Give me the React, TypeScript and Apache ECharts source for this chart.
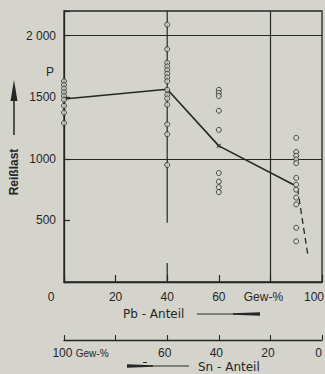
import React, { useEffect, useRef } from "react";
import * as echarts from "echarts";

// ---- data ----
const col0X = 0;
const col0Y = [1630, 1600, 1570, 1540, 1510, 1480, 1430, 1375, 1290];
const col40X = 40;
const col40Y = [2090, 1890, 1780, 1750, 1720, 1690, 1660, 1630, 1560, 1520, 1490, 1440, 1280, 1200, 950];
const col60X = 60;
const col60Y = [1560, 1535, 1510, 1390, 1235, 885, 815, 770, 730];
const col90X = 90;
const col90Y = [1170, 1055, 1025, 995, 965, 845, 790, 750, 685, 630, 440, 330];

const meanX = [0, 40, 60, 89];
const meanY = [1485, 1565, 1105, 790];
const crossPoint = [60, 1105];
const dashedX = [90.5, 94.5];
const dashedY = [760, 220];
const rangeLine40 = [[40, 480], [40, 2200]];
const longTick40 = [[40, 0], [40, 155]];

const gridYValues = [1000, 2000];
const gridXValues = [80];

const yTickLabels: Record<number, string> = { 500: "500", 1000: "1000", 1500: "1500", 2000: "2 000" };
const pbTickLabels: Record<number, string> = { 0: "0", 20: "20", 40: "40", 60: "60", 80: "Gew-%", 100: "100" };
const snTickLabels: Record<number, string> = { 100: "100", 80: "", 60: "60", 40: "40", 20: "20", 0: "0" };
const snUnit = "Gew-%";

const INK = "#262626";
const PAPER = "#d4d4cc";
const FONT = "Liberation Sans";

function pts(x: number, ys: number[]) {
  return ys.map((y) => [x, y]);
}

export default function App() {
  const ref = useRef<HTMLDivElement>(null);
  useEffect(() => {
    const chart = echarts.init(ref.current!, null, { renderer: "svg" });
    const txt = { fontFamily: FONT, fontSize: 12, color: INK };
    const circleSeries = (data: number[][]) => ({
      type: "scatter",
      data,
      symbol: "circle",
      symbolSize: 5,
      itemStyle: { color: PAPER, borderColor: INK, borderWidth: 1 },
      z: 5,
    });
    const segLine = (data: number[][], extra: any = {}) => ({
      type: "line",
      data,
      symbol: "none",
      lineStyle: { color: INK, width: 1.3, ...extra },
      z: 3,
    });
    chart.setOption({
      animation: false,
      backgroundColor: PAPER,
      grid: {
        left: 64,
        right: 3,
        top: 11,
        bottom: 92,
        outerBoundsMode: "none",
        containLabel: false,
        show: true,
        borderColor: INK,
        borderWidth: 1.3,
        backgroundColor: "transparent",
      },
      xAxis: [
        {
          type: "value",
          min: 0,
          max: 100,
          interval: 20,
          position: "bottom",
          axisLine: { show: true, lineStyle: { color: INK, width: 1.3 } },
          axisTick: { show: true, inside: true, length: 7, lineStyle: { color: INK, width: 1.2 } },
          splitLine: { show: false },
          axisLabel: {
            margin: 9,
            hideOverlap: false,
            ...txt,
            formatter: (v: number) => {
              const s = pbTickLabels[v] ?? "";
              if (v === 0) return "{l|" + s + "}";
              if (v === 100) return "{r|" + s + "}";
              if (v === 80) return "{g|" + s + "}";
              return s;
            },
            rich: {
              l: { ...txt, padding: [0, 26, 0, 0] },
              r: { ...txt, padding: [0, 16, 0, 0] },
              g: { ...txt, padding: [0, 14, 0, 0] },
            },
          },
        },
        {
          type: "value",
          min: 0,
          max: 100,
          interval: 20,
          inverse: true,
          position: "bottom",
          offset: 58,
          axisLine: { show: true, lineStyle: { color: INK, width: 1.3 } },
          axisTick: { show: true, inside: true, length: 5, lineStyle: { color: INK, width: 1.1 } },
          splitLine: { show: false },
          axisLabel: {
            margin: 7,
            hideOverlap: false,
            ...txt,
            formatter: (v: number) => {
              const s = snTickLabels[v] ?? "";
              if (v === 100) return "{a|" + s + " }{b|" + snUnit + "}";
              if (v === 0) return "{z|" + s + "}";
              return "{m|" + s + "}";
            },
            rich: {
              a: { ...txt, padding: [0, 0, 0, 33] },
              b: { ...txt, fontSize: 10 },
              m: { ...txt, padding: [0, 5, 0, 0] },
              z: { ...txt, padding: [0, 7, 0, 0] },
            },
          },
        },
      ],
      yAxis: {
        type: "value",
        min: 0,
        max: 2200,
        interval: 500,
        axisLine: { show: true, lineStyle: { color: INK, width: 1.3 } },
        axisTick: { show: true, inside: true, length: 6, lineStyle: { color: INK, width: 1.2 } },
        splitLine: { show: false },
        axisLabel: { margin: 8, ...txt, formatter: (v: number) => yTickLabels[v] ?? "" },
      },
      series: [
        {
          type: "line",
          data: [],
          markLine: {
            silent: true,
            symbol: "none",
            label: { show: false },
            lineStyle: { color: INK, width: 1.2, type: "solid" },
            data: [
              ...gridYValues.map((v) => ({ yAxis: v })),
              ...gridXValues.map((v) => ({ xAxis: v })),
            ],
          },
        },
        segLine(rangeLine40, { width: 1.2 }),
        segLine(longTick40, { width: 1.2 }),
        segLine(meanX.map((x, i) => [x, meanY[i]]), { width: 1.6 }),
        segLine(dashedX.map((x, i) => [x, dashedY[i]]), { width: 1.3, type: [6, 4] }),
        {
          type: "scatter",
          data: [crossPoint],
          symbol: "path://M0,0L10,10M10,0L0,10",
          symbolSize: 4,
          itemStyle: { color: "none", borderColor: INK, borderWidth: 1.2 },
          z: 6,
        },
        circleSeries(pts(col0X, col0Y)),
        circleSeries(pts(col40X, col40Y)),
        circleSeries(pts(col60X, col60Y)),
        circleSeries(pts(col90X, col90Y)),
      ],
      graphic: [
        { type: "text", x: 46, y: 66, style: { text: "P", font: `12px "${FONT}"`, fill: INK } },
        { type: "polygon", shape: { points: [[14, 80], [10.5, 101], [17.5, 101]] }, style: { fill: INK } },
        { type: "line", shape: { x1: 14, y1: 100, x2: 14, y2: 135 }, style: { stroke: INK, lineWidth: 1.5 } },
        {
          type: "text",
          x: 14,
          y: 172,
          rotation: Math.PI / 2,
          style: { text: "Reißlast", font: `bold 12px "${FONT}"`, fill: INK, align: "center", verticalAlign: "middle" },
        },
        {
          type: "text",
          x: 123,
          y: 314,
          style: { text: "Pb - Anteil", font: `12px "DejaVu Sans"`, fill: INK, verticalAlign: "middle" },
        },
        { type: "line", shape: { x1: 197, y1: 314, x2: 236, y2: 314 }, style: { stroke: INK, lineWidth: 1.1 } },
        { type: "polygon", shape: { points: [[233, 313.2], [260, 312.2], [260, 315.8], [233, 314.8]] }, style: { fill: INK } },
        {
          type: "text",
          x: 198,
          y: 367,
          style: { text: "Sn - Anteil", font: `12px "DejaVu Sans"`, fill: INK, verticalAlign: "middle" },
        },
        { type: "line", shape: { x1: 150, y1: 366, x2: 189, y2: 366 }, style: { stroke: INK, lineWidth: 1.1 } },
        { type: "polygon", shape: { points: [[127, 364.3], [153, 365.2], [153, 366.8], [127, 367.7]] }, style: { fill: INK } },
        { type: "line", shape: { x1: 143, y1: 362.5, x2: 147, y2: 362.5 }, style: { stroke: INK, lineWidth: 1 } },
      ],
    });
    return () => chart.dispose();
  }, []);
  return (
    <div
      ref={ref}
      style={{ position: "fixed", left: 0, top: 0, width: 325, height: 374 }}
    />
  );
}
